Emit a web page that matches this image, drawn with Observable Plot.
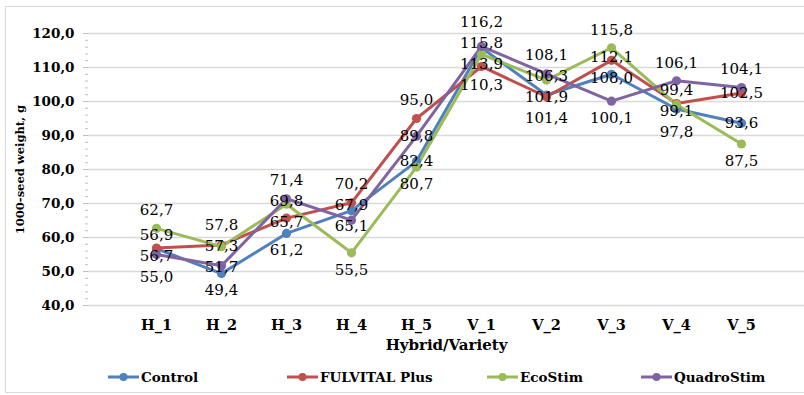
<!DOCTYPE html>
<html>
<head>
<meta charset="utf-8">
<script src="https://cdn.jsdelivr.net/npm/d3@7"></script>
<script src="https://cdn.jsdelivr.net/npm/@observablehq/plot@0.6"></script>
<style>
  body { margin: 0; background: #fff; }
  #wrap { position: relative; width: 804px; height: 395px; overflow: hidden; background: #fff; }
  #border { position: absolute; left: 5px; top: 6px; width: 820px; height: 387px; border: 1px solid #d9d9d9; box-sizing: border-box; }
  #chart { position: absolute; left: 0; top: 0; }
  #chart svg, #chart svg text { font-family: "DejaVu Serif", serif !important; }
  #legend { position: absolute; left: 0; top: 366px; width: 804px; height: 22px; font-family: "DejaVu Serif", serif; font-weight: bold; font-size: 13.5px; color: #000; }
  .item { position: absolute; top: 0; display: flex; align-items: center; height: 22px; }
  .item svg { margin-right: 2px; }
</style>
</head>
<body>
<div id="wrap">
  <div id="border"></div>
  <div id="chart"></div>
  <div id="legend"></div>
</div>
<script>
// ---- data ----
const categories = ["H_1", "H_2", "H_3", "H_4", "H_5", "V_1", "V_2", "V_3", "V_4", "V_5"];
const seriesNames = ["Control", "FULVITAL Plus", "EcoStim", "QuadroStim"];
const control    = [56.7, 49.4, 61.2, 67.9, 82.4, 115.8, 101.9, 108.0, 97.8, 93.6];
const fulvital   = [56.9, 57.8, 65.7, 70.2, 95.0, 110.3, 101.4, 112.1, 99.4, 102.5];
const ecostim    = [62.7, 57.3, 69.8, 55.5, 80.7, 113.9, 106.3, 115.8, 99.1, 87.5];
const quadrostim = [55.0, 51.7, 71.4, 65.1, 89.8, 116.2, 108.1, 100.1, 106.1, 104.1];
const yTicks = [40, 50, 60, 70, 80, 90, 100, 110, 120];
const yTitle = "1000-seed weight, g";
const xTitle = "Hybrid/Variety";
const colors = ["#4f81bd", "#c0504d", "#9bbb59", "#8064a2"];

const seriesValues = [control, fulvital, ecostim, quadrostim];
const rows = [];
seriesValues.forEach((vals, s) => vals.forEach((v, i) => rows.push({series: seriesNames[s], cat: categories[i], value: v})));
const fmt = v => v.toFixed(1).replace(".", ",");

// ---- layout ----
const W = 804, H = 362, MT = 33, MB = 57, ML = 88, MR = 0;
const yDomain = [40, 120];
const yPix = d3.scaleLinear(yDomain, [H - MB, MT]);

// label placement: stack labels per category, avoid overlap
const labels = [];
categories.forEach(c => {
  const pts = rows.filter(r => r.cat === c).sort((a, b) => b.value - a.value);
  const n = pts.length;
  const ys = pts.map((p, k) => yPix(p.value) + (k === 0 ? -18 : k === n - 1 ? 17 : 0));
  const sep = 21;
  for (let it = 0; it < 200; it++) {
    for (let k = 0; k < n - 1; k++) {
      const gap = ys[k + 1] - ys[k];
      if (gap < sep) { const d = (sep - gap) / 2; ys[k] -= d; ys[k + 1] += d; }
    }
  }
  pts.forEach((p, k) => labels.push({cat: c, text: fmt(p.value), y: yPix.invert(ys[k])}));
});

const chart = Plot.plot({
  width: W, height: H,
  marginTop: MT, marginBottom: MB, marginLeft: ML, marginRight: MR,
  style: {fontSize: "14px", color: "#000", background: "transparent"},
  x: {type: "point", domain: categories, range: [123, 773], label: null},
  y: {domain: yDomain, label: null},
  color: {domain: seriesNames, range: colors},
  marks: [
    Plot.gridY(yTicks, {stroke: "#d9d9d9", strokeOpacity: 1, strokeWidth: 1.3}),
    Plot.axisY(d3.range(40, 121, 2), {tickSize: 3, tickFormat: () => "", stroke: "#bfbfbf", label: null}),
    Plot.axisY(yTicks, {tickSize: 5, tickPadding: 9, tickFormat: fmt, stroke: "#bfbfbf", label: null, line: true, fontWeight: "bold", fontSize: 13.5}),
    Plot.axisX({tickSize: 0, tickPadding: 14, label: null, fontWeight: "bold", fontSize: 14.5}),
    Plot.line(rows, {x: "cat", y: "value", z: "series", stroke: "series", strokeWidth: 3}),
    Plot.dot(rows, {x: "cat", y: "value", fill: "series", r: 4.6}),
    Plot.text(labels, {x: "cat", y: "y", text: "text", fill: "#000", fontSize: 15}),
    Plot.text([xTitle], {text: d => d, frameAnchor: "bottom", dy: 44, fontWeight: "bold", fontSize: 15, style: {letterSpacing: "0.6px"}}),
    Plot.text([yTitle], {text: d => d, frameAnchor: "left", textAnchor: "middle", dx: -68, rotate: -90, fontWeight: "bold", fontSize: 11.5})
  ]
});
document.getElementById("chart").appendChild(chart);

// ---- legend ----
const legendLeft = [108, 287, 487, 641];
const legend = document.getElementById("legend");
seriesNames.forEach((name, i) => {
  const item = document.createElement("div");
  item.className = "item";
  item.style.left = legendLeft[i] + "px";
  item.innerHTML = `<svg width="31" height="12"><line x1="0" x2="31" y1="6" y2="6" stroke="${colors[i]}" stroke-width="3"/><circle cx="15.5" cy="6" r="4" fill="${colors[i]}"/></svg><span>${name}</span>`;
  legend.appendChild(item);
});
</script>
</body>
</html>
